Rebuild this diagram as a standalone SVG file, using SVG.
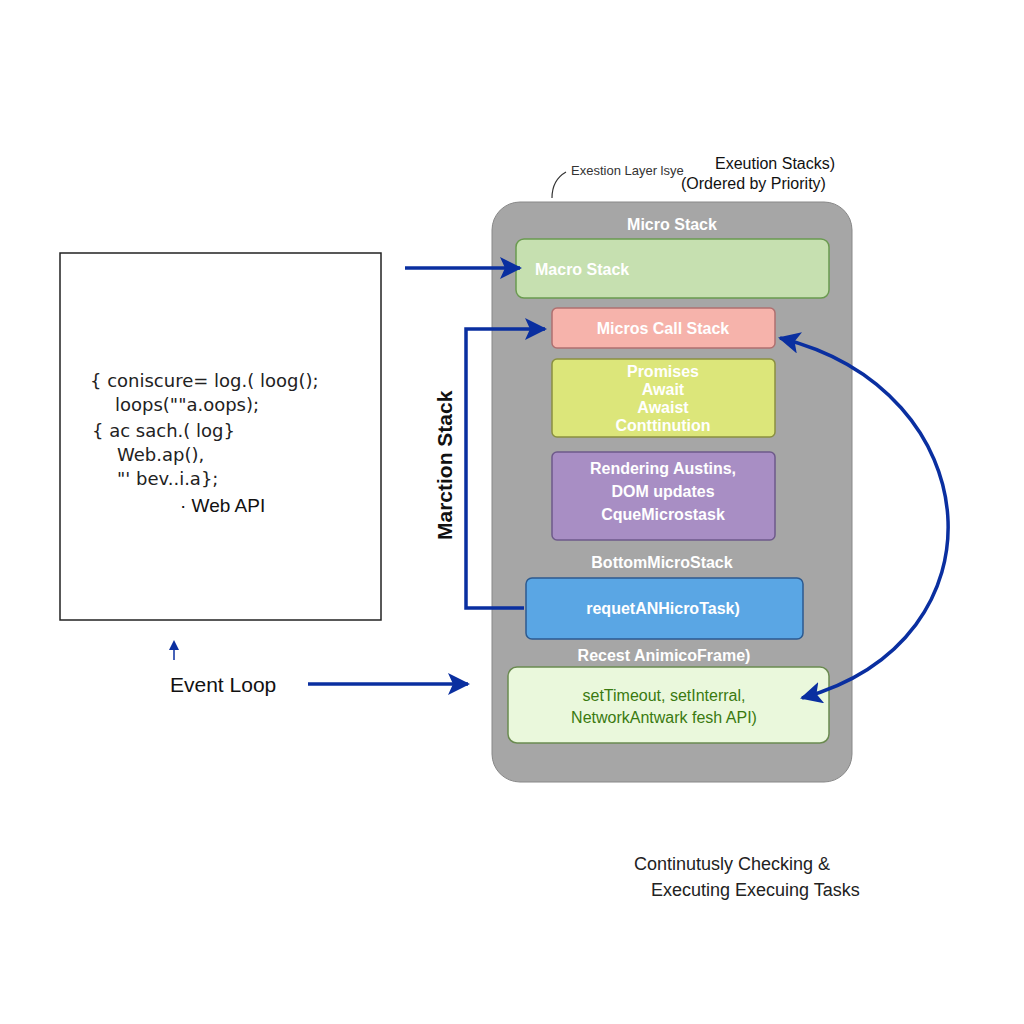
<svg xmlns="http://www.w3.org/2000/svg" width="1024" height="1024" viewBox="0 0 1024 1024">
<defs>
<style>
.s{font-family:"Liberation Sans",Arial,sans-serif}
.w{fill:#fff;font-weight:bold;font-size:16px;text-anchor:middle}
.c{font-family:"DejaVu Sans",sans-serif;font-size:18px;fill:#222}
.ln{fill:none;stroke:#0a2fa0;stroke-width:3.5}
</style>
<marker id="a" markerWidth="10" markerHeight="10" refX="8" refY="5" orient="auto" markerUnits="userSpaceOnUse" viewBox="0 0 10 10"><path d="M0,0 L10,5 L0,10 z" fill="#0a2fa0"/></marker>
<marker id="b" markerWidth="22" markerHeight="22" refX="20" refY="11" orient="auto-start-reverse" markerUnits="userSpaceOnUse" viewBox="0 0 22 22"><path d="M0,0 L22,11 L0,22 L5,11 z" fill="#0a2fa0"/></marker>
</defs>
<rect width="1024" height="1024" fill="#fff"/>
<g id="code">
<rect x="60" y="253" width="321" height="367" fill="#fff" stroke="#222" stroke-width="1.5"/>
<text class="c" x="90" y="387">{ coniscure= log.( loog();</text>
<text class="c" x="115" y="411">loops(""a.oops);</text>
<text class="c" x="92" y="437">{  ac sach.( log}</text>
<text class="c" x="117" y="461">Web.ap(),</text>
<text class="c" x="117" y="485">"' bev..i.a};</text>
<text class="s" x="180" y="512" font-size="19" fill="#111">· Web API</text>
</g>
<g id="titles">
<path d="M552,198 Q552,180 566,172" fill="none" stroke="#333" stroke-width="1.2"/>
<text class="s" x="571" y="175" font-size="13" fill="#333">Exestion Layer lsye</text>
<text class="s" x="715" y="169" font-size="16" fill="#111">Exeution Stacks)</text>
<text class="s" x="681" y="189" font-size="16" fill="#111">(Ordered by Priority)</text>
<text class="s" x="634" y="870" font-size="18" fill="#222">Continutusly Checking &amp;</text>
<text class="s" x="651" y="896" font-size="18" fill="#222">Executing Execuing Tasks</text>
<text class="s" x="170" y="692" font-size="21" fill="#111">Event Loop</text>
<text class="s" x="0" y="0" font-size="21" fill="#111" font-weight="bold" transform="translate(452,540) rotate(-90)">Marction Stack</text>
</g>
<g id="panel">
<rect x="492" y="202" width="360" height="580" rx="28" fill="#a6a6a6" stroke="#888"/>
<text class="s w" x="672" y="230">Micro Stack</text>
</g>
<g id="macro"><rect x="516" y="239" width="313" height="59" rx="8" fill="#c6e0b0" stroke="#6a9a50" stroke-width="1.5"/><text class="s" x="535" y="275" fill="#fff" font-size="16" font-weight="bold">Macro Stack</text></g>
<g id="callstack"><rect x="552" y="308" width="223" height="40" rx="5" fill="#f6b3ab" stroke="#b07070" stroke-width="1.5"/><text class="s w" x="663" y="334">Micros Call Stack</text></g>
<g id="promises"><rect x="552" y="359" width="223" height="78" rx="5" fill="#dce67a" stroke="#8a9040" stroke-width="1.5"/><text class="s w" x="663" y="377">Promises</text><text class="s w" x="663" y="395">Await</text><text class="s w" x="663" y="413">Awaist</text><text class="s w" x="663" y="431">Conttinution</text></g>
<g id="rendering"><rect x="552" y="452" width="223" height="88" rx="5" fill="#a88ec4" stroke="#6e5a8a" stroke-width="1.5"/><text class="s w" x="663" y="474">Rendering Austins,</text><text class="s w" x="663" y="497">DOM updates</text><text class="s w" x="663" y="520">CqueMicrostask</text></g>
<text class="s w" x="662" y="568">BottomMicroStack</text>
<g id="raf"><rect x="526" y="578" width="277" height="61" rx="6" fill="#5aa6e4" stroke="#2c5a90" stroke-width="1.5"/><text class="s w" x="663" y="614">requetANHicroTask)</text></g>
<text class="s w" x="664" y="661">Recest AnimicoFrame)</text>
<g id="timers"><rect x="508" y="667" width="321" height="76" rx="9" fill="#eaf8dc" stroke="#6a8a50" stroke-width="1.5"/><text class="s" x="664" y="701" font-size="16" fill="#3a7a10" text-anchor="middle">setTimeout, setInterral,</text><text class="s" x="664" y="723" font-size="16" fill="#3a7a10" text-anchor="middle">NetworkAntwark fesh API)</text></g>
<g id="connectors">
<line class="ln" x1="405" y1="268" x2="520" y2="268" marker-end="url(#b)"/>
<path class="ln" d="M524,608 H466 V329 H545" marker-end="url(#b)"/>
<line class="ln" x1="308" y1="684" x2="468" y2="684" marker-end="url(#b)"/>
<path class="ln" d="M780,338 C990,390 1010,640 802,698" marker-start="url(#b)" marker-end="url(#b)"/>
<line x1="174" y1="660" x2="174" y2="642" stroke="#0a2fa0" stroke-width="1.5" marker-end="url(#a)"/>
</g>
</svg>
